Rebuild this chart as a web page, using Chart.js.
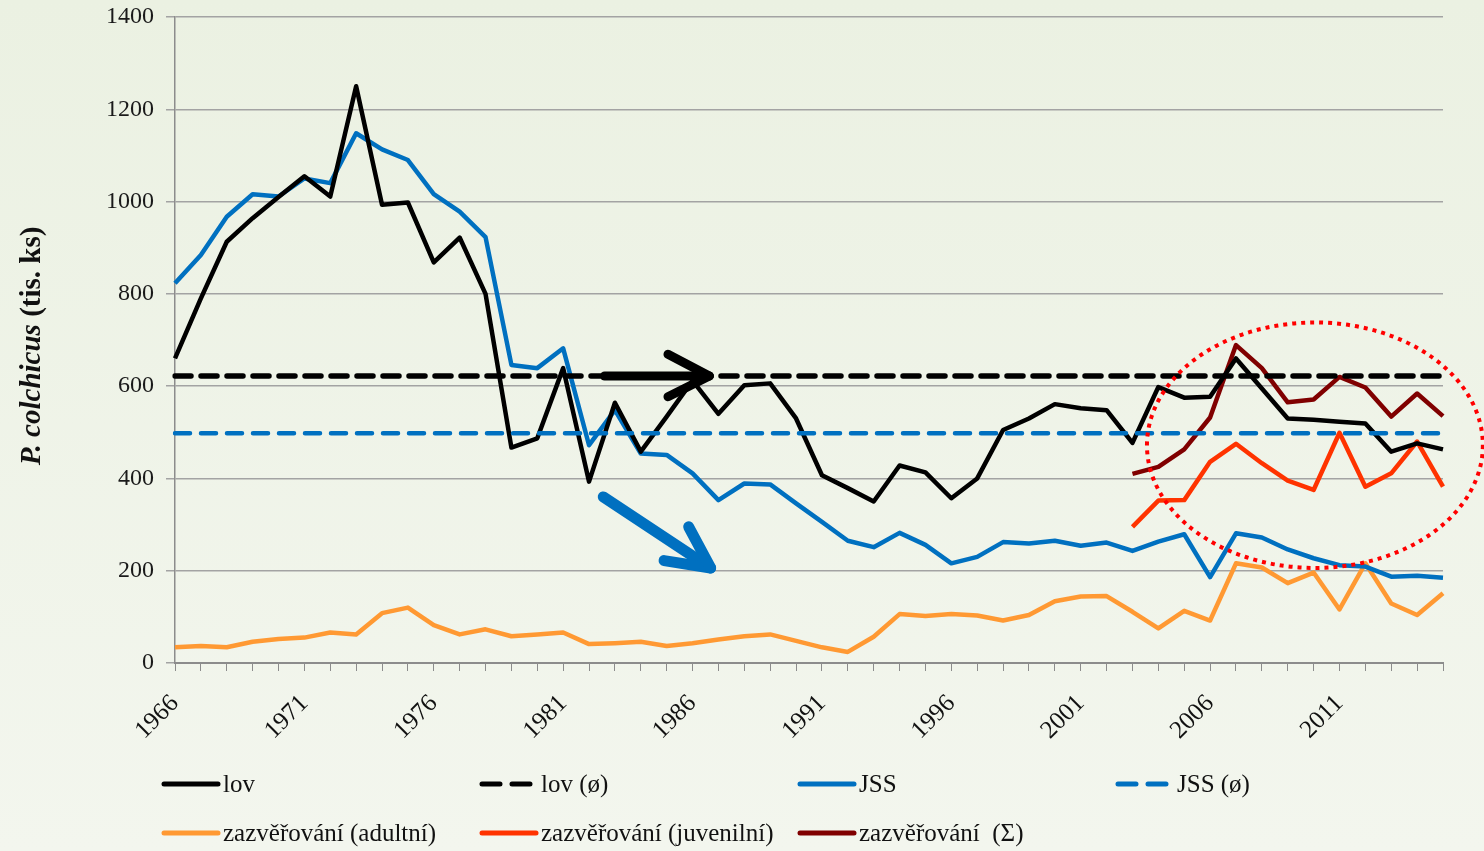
<!DOCTYPE html>
<html>
<head>
<meta charset="utf-8">
<script src="https://cdn.jsdelivr.net/npm/chart.js@4.4.1/dist/chart.umd.min.js"></script>
<style>
  html, body { margin: 0; padding: 0; }
  body {
    width: 1484px; height: 851px; position: relative; overflow: hidden;
    background: linear-gradient(#EBF1E2, #F3F6EE);
    font-family: 'Liberation Serif', 'Times New Roman', serif;
  }
  #wrap { position: absolute; left: 0; top: 0; width: 1484px; height: 760px; }
  #ytitle {
    position: absolute; left: 30px; top: 346px;
    transform: translate(-50%, -50%) rotate(-90deg);
    font-size: 29px; font-weight: bold; white-space: nowrap; color: #111;
  }
  #legend { position: absolute; left: 0; top: 0; width: 1484px; height: 851px; pointer-events: none; }
  .item { position: absolute; display: flex; align-items: center; font-size: 25px; color: #111; height: 30px; }
  .item svg { margin-right: 1px; }
</style>
</head>
<body>
<div id="wrap"><canvas id="chart" width="1484" height="760"></canvas></div>
<div id="ytitle"><i>P. colchicus</i> (tis. ks)</div>
<div id="legend"></div>

<script>
// ===== Data =====
const years = ['1966','1967','1968','1969','1970','1971','1972','1973','1974','1975',
               '1976','1977','1978','1979','1980','1981','1982','1983','1984','1985',
               '1986','1987','1988','1989','1990','1991','1992','1993','1994','1995',
               '1996','1997','1998','1999','2000','2001','2002','2003','2004','2005',
               '2006','2007','2008','2009','2010','2011','2012','2013','2014','2015'];

const lov = [660, 790, 913, 964, 1010, 1055, 1011, 1250, 993, 998,
             868, 922, 800, 467, 487, 639, 393, 564, 458, 534,
             612, 540, 602, 606, 530, 407, 379, 350, 428, 413,
             357, 400, 505, 530, 561, 552, 548, 477, 598, 575,
             577, 660, 595, 530, 527, 523, 519, 458, 476, 463];

const jss = [823, 884, 967, 1016, 1011, 1050, 1040, 1148, 1113, 1090,
             1016, 978, 923, 646, 639, 682, 472, 548, 454, 451,
             411, 353, 389, 387, 346, 306, 265, 251, 282, 256,
             216, 230, 262, 259, 265, 254, 261, 243, 263, 279,
             186, 281, 272, 246, 227, 212, 209, 187, 189, 185];

const adult = [34, 37, 34, 46, 52, 55, 66, 62, 108, 120,
               82, 62, 73, 58, 62, 66, 41, 43, 46, 37,
               43, 51, 58, 62, 48, 34, 24, 57, 106, 102,
               106, 103, 92, 104, 134, 144, 145, 111, 75, 113,
               92, 216, 207, 173, 196, 116, 216, 129, 104, 151];

// juvenile and total releases only from 2003
const juvenile = [null, null, null, null, null, null, null, null, null, null,
                  null, null, null, null, null, null, null, null, null, null,
                  null, null, null, null, null, null, null, null, null, null,
                  null, null, null, null, null, null, null, 295, 352, 353,
                  436, 475, 433, 395, 375, 499, 382, 411, 480, 382];

const total = [null, null, null, null, null, null, null, null, null, null,
               null, null, null, null, null, null, null, null, null, null,
               null, null, null, null, null, null, null, null, null, null,
               null, null, null, null, null, null, null, 410, 425, 463,
               532, 689, 639, 565, 571, 620, 597, 534, 584, 535];

const lovAvg = 622;
const jssAvg = 498;

const yTicks = [0, 200, 400, 600, 800, 1000, 1200, 1400];

// Colours
const colors = {
  lov: '#000000',
  jss: '#0070C0',
  adult: '#FF9933',
  juvenile: '#FF3300',
  total: '#800000',
  grid: '#A3A3A3',
  axis: '#8C8C8C',
  ring: '#FF0000'
};

const FONT = "'Liberation Serif', 'Times New Roman', serif";

// ===== Datasets =====
const datasets = [
  { label: 'lov', data: lov, borderColor: colors.lov, borderWidth: 4.5, order: 3 },
  { label: 'lov (ø)', data: years.map(() => lovAvg), borderColor: colors.lov, borderWidth: 5.5,
    borderDash: [16, 10], borderCapStyle: 'round', order: 1 },
  { label: 'JSS', data: jss, borderColor: colors.jss, borderWidth: 4.5, order: 4 },
  { label: 'JSS (ø)', data: years.map(() => jssAvg), borderColor: colors.jss, borderWidth: 4.5,
    borderDash: [15, 11], borderCapStyle: 'round', order: 2 },
  { label: 'zazvěřování (adultní)', data: adult, borderColor: colors.adult, borderWidth: 4.5, order: 7 },
  { label: 'zazvěřování (juvenilní)', data: juvenile, borderColor: colors.juvenile, borderWidth: 4.5, order: 6 },
  { label: 'zazvěřování\u00a0 (Σ)', data: total, borderColor: colors.total, borderWidth: 4.5, order: 5 }
];
datasets.forEach(d => {
  d.pointRadius = 0;
  d.tension = 0;
  d.fill = false;
  d.borderJoinStyle = 'round';
  d.spanGaps = false;
});

// ===== Annotations (arrows + dotted ring), in data space: x = category index, y = value =====
const blackArrow = { from: [16.6, 622], to: [20.65, 622], wings: [[19.05, 669], [19.05, 577]] };
const blueArrow = { from: [16.55, 360], to: [20.7, 206], wings: [[18.9, 222], [19.85, 295]] };
const ring = { center: [44.05, 472], rx: 6.49, ry: 266 };

const annotations = {
  id: 'annotations',
  afterDatasetsDraw(chart) {
    const { ctx, scales: { x, y } } = chart;
    const px = p => [x.getPixelForValue(p[0]), y.getPixelForValue(p[1])];
    const arrow = (a, color, shaftW, wingW) => {
      ctx.save();
      ctx.strokeStyle = color;
      ctx.lineCap = 'round';
      ctx.lineJoin = 'round';
      const [x0, y0] = px(a.from), [x1, y1] = px(a.to);
      ctx.lineWidth = shaftW;
      ctx.beginPath();
      ctx.moveTo(x0, y0);
      ctx.lineTo(x1 - (x1 - x0) * 0.04, y1 - (y1 - y0) * 0.04);
      ctx.stroke();
      ctx.lineWidth = wingW;
      a.wings.forEach(w => {
        const [wx, wy] = px(w);
        ctx.beginPath();
        ctx.moveTo(wx, wy);
        ctx.lineTo(x1, y1);
        ctx.stroke();
      });
      ctx.restore();
    };
    arrow(blackArrow, colors.lov, 9, 9);
    arrow(blueArrow, colors.jss, 11, 11);

    // dotted ring
    const [cx, cy] = px(ring.center);
    const rx = x.getPixelForValue(ring.center[0] + ring.rx) - cx;
    const ry = cy - y.getPixelForValue(ring.center[1] + ring.ry);
    ctx.save();
    ctx.strokeStyle = colors.ring;
    ctx.lineWidth = 4;
    ctx.setLineDash([4, 5]);
    ctx.beginPath();
    ctx.ellipse(cx, cy, rx, ry, 0, 0, Math.PI * 2);
    ctx.stroke();
    ctx.restore();
  }
};

// ===== Chart =====
new Chart(document.getElementById('chart'), {
  type: 'line',
  data: { labels: years, datasets },
  plugins: [annotations],
  options: {
    responsive: false,
    animation: false,
    layout: { padding: { top: 17, right: 41, left: 0, bottom: 0 } },
    plugins: {
      legend: { display: false },
      tooltip: { enabled: false }
    },
    scales: {
      x: {
        afterFit: s => { s.height = 97; },
        grid: { drawOnChartArea: false, drawTicks: true, tickLength: 8, color: colors.axis },
        border: { color: colors.axis, width: 2 },
        ticks: {
          autoSkip: false,
          maxRotation: 45,
          minRotation: 45,
          padding: 18,
          color: '#111',
          font: { family: FONT, size: 25 },
          callback: (v, i) => (i % 5 === 0 ? years[i] : '')
        }
      },
      y: {
        min: 0,
        max: 1400,
        afterFit: s => { s.width = 175; s.paddingTop = 0; s.paddingBottom = 0; },
        afterBuildTicks: s => { s.ticks = yTicks.map(v => ({ value: v })); },
        grid: { color: colors.grid, lineWidth: 1.5, tickLength: 9 },
        border: { color: colors.axis, width: 1.5 },
        ticks: {
          padding: 12,
          color: '#1a1a1a',
          font: { family: FONT, size: 24 },
          callback: v => String(v)
        }
      }
    }
  }
});

// ===== Legend (two rows, four columns) =====
const legendEl = document.getElementById('legend');
datasets.forEach((d, i) => {
  const col = i % 4, row = Math.floor(i / 4);
  const item = document.createElement('div');
  item.className = 'item';
  item.style.left = (160 + col * 318) + 'px';
  item.style.top = (769 + row * 49) + 'px';
  const dash = d.borderDash ? 'stroke-dasharray="18 12"' : '';
  item.innerHTML =
    `<svg width="62" height="10"><line x1="4" y1="5" x2="58" y2="5" stroke="${d.borderColor}" ` +
    `stroke-width="5" stroke-linecap="round" ${dash}/></svg><span>${d.label}</span>`;
  legendEl.appendChild(item);
});
</script>
</body>
</html>
